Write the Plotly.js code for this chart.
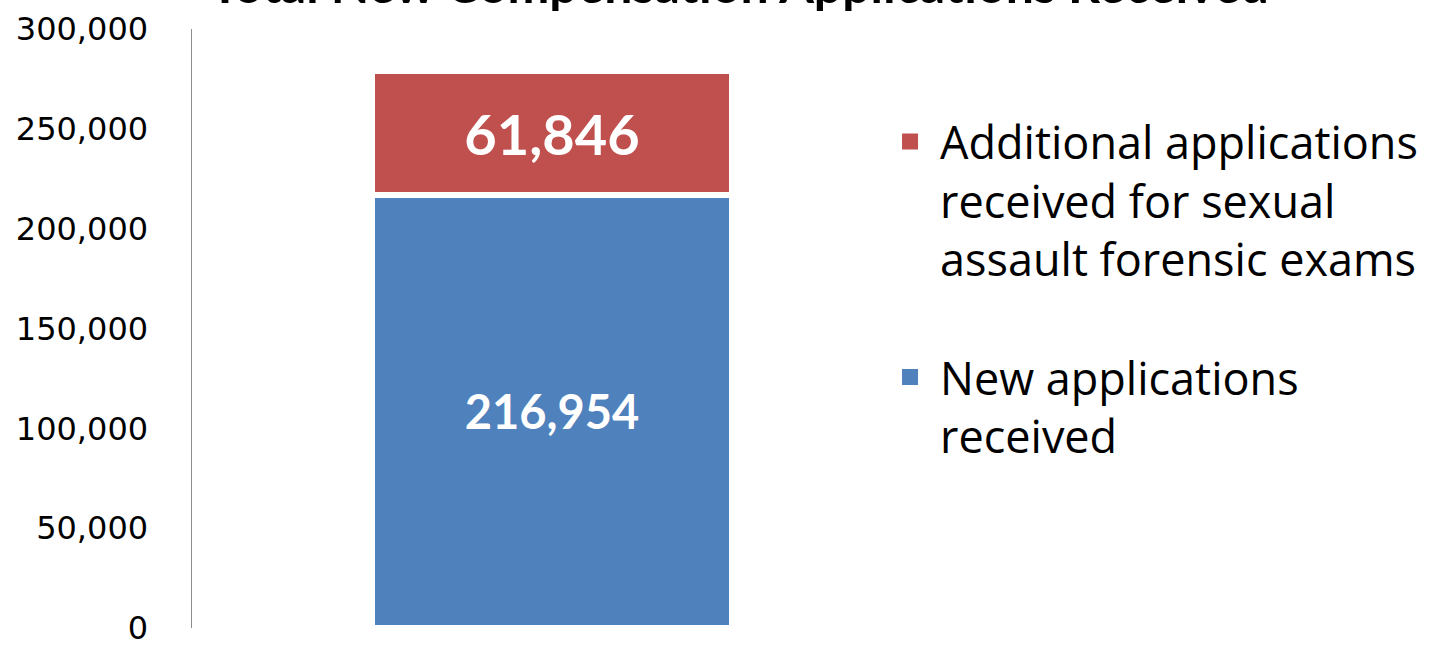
<!DOCTYPE html>
<html>
<head>
<meta charset="utf-8">
<script src="https://cdn.plot.ly/plotly-3.0.1.min.js"></script>
<style>html,body{margin:0;padding:0;background:#fff;}#chart{width:1441px;height:648px;}</style>
</head>
<body>
<div id="chart"></div>
<script>
const categories = ["Total"];
const newApplications = [216954];
const additionalApplications = [61846];
const seriesNames = ["New applications<br>received", "Additional applications<br>received for sexual<br>assault forensic exams"];
const seriesColors = ["#4F81BD", "#C0504D"];
const labelSizes = [47, 56];
const titleText = "Total New Compensation Applications Received";
const tickValues = [0, 50000, 100000, 150000, 200000, 250000, 300000];

function barTrace(y, i) {
  return {
    type: "bar", x: categories, y: y, name: seriesNames[i], showlegend: false,
    marker: {color: seriesColors[i], line: {color: "#ffffff", width: 6}},
    texttemplate: "%{y:,}", textposition: "inside", insidetextanchor: "middle",
    textfont: {family: "Lato, 'Open Sans', sans-serif", size: labelSizes[i], color: "#ffffff", weight: 700},
    constraintext: "none", hoverinfo: "none"
  };
}
function legendTrace(i, rank, group) {
  return {
    type: "scatter", mode: "markers", x: [null], y: [null], name: seriesNames[i],
    legendrank: rank, legendgroup: group, showlegend: true,
    marker: {symbol: "square", size: 21, color: seriesColors[i]}, hoverinfo: "none"
  };
}

const traces = [
  barTrace(newApplications, 0),
  barTrace(additionalApplications, 1),
  legendTrace(1, 1, "a"),
  legendTrace(0, 2, "b")
];

const layout = {
  width: 1441, height: 648,
  paper_bgcolor: "#ffffff", plot_bgcolor: "#ffffff",
  margin: {l: 192, r: 529, t: 29, b: 20, pad: 0},
  barmode: "stack", bargap: 0.5,
  separators: ".,",
  annotations: [{
    text: "<b>" + titleText + "</b>",
    font: {family: "Lato, 'Open Sans', sans-serif", size: 50, color: "#000000"},
    xref: "paper", yref: "paper", x: 0.761, y: 1.0758, xanchor: "center", yanchor: "middle",
    showarrow: false
  }],
  xaxis: {
    showticklabels: false, showline: false, showgrid: false, zeroline: false, ticks: "",
    range: [-0.5, 0.5], fixedrange: true
  },
  yaxis: {
    range: [0, 300000], tickvals: tickValues, tickformat: ",",
    showgrid: false, zeroline: false, showline: true, linecolor: "#8C8C8C", linewidth: 1.5,
    ticks: "", ticklabelstandoff: 36,
    tickfont: {family: "'DejaVu Sans', sans-serif", size: 32, color: "#000000"}
  },
  showlegend: true,
  legend: {
    x: 0.9556, xanchor: "left", y: 0.8717, yanchor: "top",
    traceorder: "grouped", tracegroupgap: 57, valign: "top", itemwidth: 50,
    itemsizing: "trace",
    font: {family: "'Open Sans', sans-serif", size: 45, color: "#000000"},
    bgcolor: "rgba(0,0,0,0)"
  }
};

Plotly.newPlot("chart", traces, layout, {displayModeBar: false, staticPlot: true});
</script>
</body>
</html>
